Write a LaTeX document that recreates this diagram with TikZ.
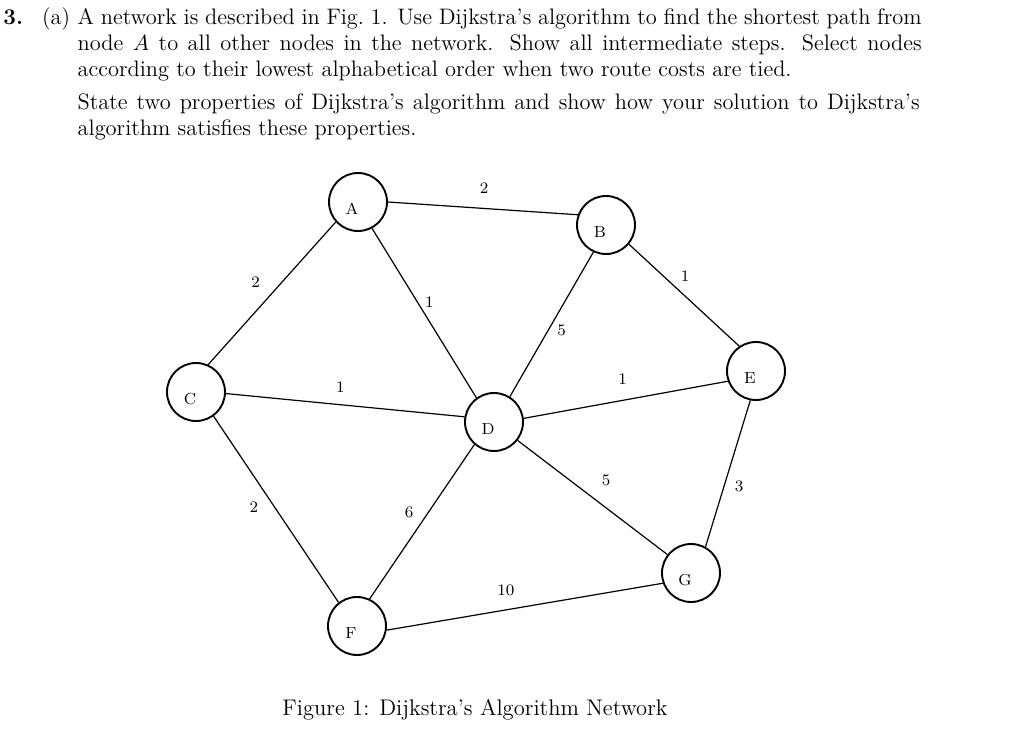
\documentclass[tikz,border=0pt]{standalone}
\begin{document}
\begin{tikzpicture}[x=0.5pt,y=-0.5pt,
  body/.style={anchor=base west, inner sep=0pt, font=\fontsize{11.2}{13}\selectfont},
  vtx/.style={circle, draw, line width=0.95pt, minimum size=29pt, inner sep=0pt},
  vlab/.style={font=\fontsize{8}{9}\selectfont, inner sep=0pt, xshift=-3pt, yshift=-3.5pt},
  elab/.style={font=\fontsize{8}{9}\selectfont, inner sep=0pt},
  edge/.style={line width=0.6pt}]
\useasboundingbox (0,0) rectangle (1024,749);
% header text
\node[body] (num) at (3,24.5) {\bfseries 3.};
\node[body] (part) at (41.7,24.5) {(a)};
\node[body] (l1) at (77.3,24.5) {\hbox to 422pt{A network is described in Fig.~1. Use Dijkstra’s algorithm to find the shortest path from}};
\node[body] (l2) at (77.3,51) {\hbox to 422pt{node $A$ to all other nodes in the network. Show all intermediate steps. Select nodes}};
\node[body] (l3) at (77.3,77) {according to their lowest alphabetical order when two route costs are tied.};
\node[body] (l4) at (77.3,110) {\hbox to 421pt{State two properties of Dijkstra’s algorithm and show how your solution to Dijkstra’s}};
\node[body] (l5) at (77.3,136) {algorithm satisfies these properties.};
% vertices
\node[vtx, label={[vlab]center:A}] (A) at (358,202) {};
\node[vtx, label={[vlab]center:B}] (B) at (606,225) {};
\node[vtx, label={[vlab]center:C}] (C) at (196,392) {};
\node[vtx, label={[vlab]center:D}] (D) at (494,422) {};
\node[vtx, label={[vlab]center:E}] (E) at (756,371) {};
\node[vtx, label={[vlab]center:F}] (F) at (357,626) {};
\node[vtx, label={[vlab]center:G}] (G) at (691,573) {};
% edges
\draw[edge] (A.0) -- (B.160) node[elab] at (484,188.3) {2};
\draw[edge] (A.222) -- (C.66) node[elab] at (255.7,281.7) {2};
\draw[edge] (A.-62) -- (D.126) node[elab] at (429.3,301.7) {1};
\draw[edge] (B.245) -- (D.58) node[elab] at (561.7,330) {5};
\draw[edge] (B.-40) -- (E.124) node[elab] at (685,276) {1};
\draw[edge] (C.-3) -- (D.170) node[elab] at (340.3,386.7) {1};
\draw[edge] (D.7) -- (E.200) node[elab] at (622.7,379.3) {1};
\draw[edge] (C.-54) -- (F.128) node[elab] at (253.8,506.7) {2};
\draw[edge] (D.229) -- (F.65) node[elab] at (409,512) {6};
\draw[edge] (D.-38) -- (G.142) node[elab] at (606,480) {5};
\draw[edge] (E.259) -- (G.61) node[elab] at (739,486.7) {3};
\draw[edge] (F.-8) -- (G.200) node[elab] at (505.8,590.7) {10};
% caption
\node[anchor=base, inner sep=0pt, font=\fontsize{11.3}{13}\selectfont] (cap) at (475,715.5) {Figure 1: Dijkstra’s Algorithm Network};
\end{tikzpicture}
\end{document}
